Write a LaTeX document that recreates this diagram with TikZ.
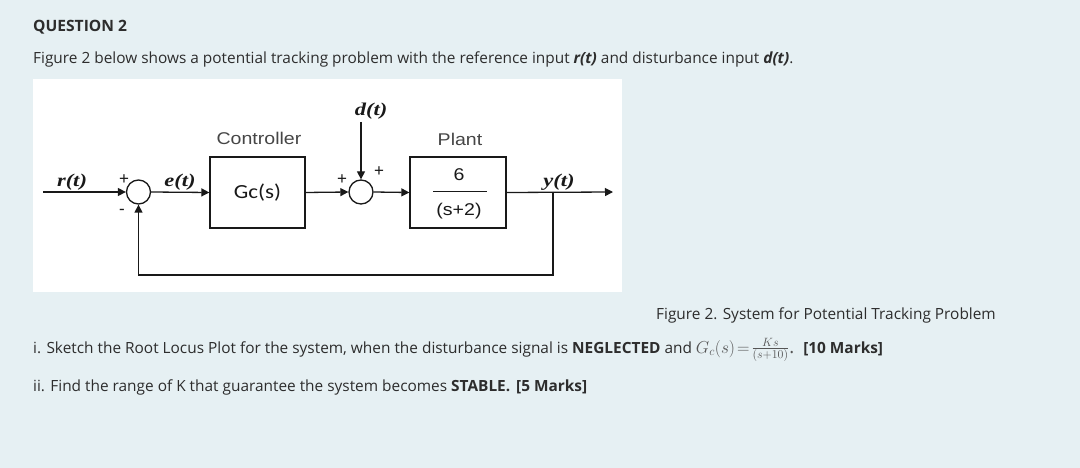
\documentclass[tikz,border=0pt]{standalone}
\usepackage[no-math]{fontspec}
\setmainfont{Open Sans}
\newfontfamily\arialf{Liberation Sans}
\newfontfamily\timesf{Liberation Serif}
\newfontfamily\calf{Carlito}
\usetikzlibrary{arrows.meta}
\definecolor{bgc}{RGB}{230,240,243}
\definecolor{txt}{RGB}{45,45,45}
\definecolor{ln}{RGB}{25,25,25}
\definecolor{lbl}{RGB}{70,70,70}
\definecolor{mth}{RGB}{85,85,85}
\newcommand\myfs[1]{\fontsize{#1}{#1}\selectfont}
\begin{document}
\begin{tikzpicture}[x=1pt,y=1pt,
  blk/.style={draw=ln, line width=1.3pt, minimum width=95pt, minimum height=71pt, inner sep=0, fill=white},
  sumj/.style={circle, draw=ln, line width=1.3pt, minimum size=24pt, inner sep=0, fill=white},
  sig/.style={line width=1.3pt, draw=ln},
  arr/.style={sig, -{Triangle[length=8pt,width=8pt]}},
  sl/.style={font=\timesf\myfs{18}\bfseries\itshape, text=ln, inner sep=0, anchor=base, xscale=1.25, transform shape},
  sign/.style={font=\arialf\myfs{17}, text=ln, inner sep=0},
  blklabel/.style={font=\arialf\myfs{17}, text=lbl, inner sep=0, xscale=1.15, transform shape},
  blktext/.style={text=ln, inner sep=0, xscale=1.15, transform shape},
  body/.style={font=\myfs{15.4}, text=txt, inner sep=0, anchor=base west},
]
\fill[bgc] (0,0) rectangle (1080,-468);
\useasboundingbox (0,0) rectangle (1080,-468);
\fill[white] (33,-79) rectangle (622,-292);

% texts
\node[body, font=\myfs{15.6}\bfseries] (q) at (33,-32) {QUESTION 2};
\node[body] (intro) at (33,-64) {Figure 2 below shows a potential tracking problem with the reference input \textbf{\textit{r(t)}} and disturbance input \textbf{\textit{d(t)}}.};
\node[body] (fcap) at (656,-319) {Figure 2. System for Potential Tracking Problem};
\node[body] (qi) at (33,-353) {i. Sketch the Root Locus Plot for the system, when the disturbance signal is \textbf{NEGLECTED} and {\color{mth}\myfs{18.5}$G_c(s)\!=\!\frac{Ks}{(s+10)}$.}\hspace{9pt}\textbf{[10 Marks]}};
\node[body] (qii) at (33,-391) {ii. Find the range of K that guarantee the system becomes \textbf{STABLE.}\hspace{6pt}\textbf{[5 Marks]}};

% diagram
\coordinate (rin) at (43,-192);
\node[sumj] (s1) at (138.5,-192) {};
\node[blk] (ctrl) at (257.5,-192.5) {};
\node[blktext, font=\calf\myfs{20}] (gc) at (257.5,-192.5) {Gc(s)};
\node[sumj] (s2) at (361,-192) {};
\node[blk, minimum width=96pt] (plant) at (458,-192.5) {};
\node[blktext, font=\arialf\myfs{17}] (num) at (459,-175) {6};
\node[blktext, font=\arialf\myfs{17}] (den) at (459,-211) {(s+2)};
\coordinate (fl) at (433,-192);
\coordinate (fr) at (487,-192);
\draw[line width=1pt, ln] (fl) -- (fr);
\coordinate (br) at (553,-192);
\coordinate (yout) at (613,-192);
\coordinate (fb1) at (553,-275);
\coordinate (fb2) at (138.5,-275);
\coordinate (din) at (361,-122);

\node[blklabel] (cl) at (259,-138) {Controller};
\node[blklabel] (pl) at (460,-139) {Plant};

\draw[arr] (rin) -- (s1.west);
\draw[arr] (s1.east) -- (ctrl.west);
\draw[arr] (ctrl.east) -- (s2.west);
\draw[arr] (s2.east) -- (plant.west);
\draw[arr] (plant.east) -- (yout);
\draw[arr] (br) -- (fb1) -- (fb2) -- (s1.south);
\draw[arr] (din) -- (s2.north);

\node[sl] (rl) at (72,-187) {r(t)};
\node[sl] (el) at (180,-187) {e(t)};
\node[sl] (dl) at (371,-116) {d(t)};
\node[sl] (yl) at (559,-186) {y(t)};

\node[sign] (p1) at (124,-180) {+};
\node[sign] (m1) at (122,-212) {-};
\node[sign] (p2) at (342,-180) {+};
\node[sign] (p3) at (379,-172) {+};
\end{tikzpicture}
\end{document}
